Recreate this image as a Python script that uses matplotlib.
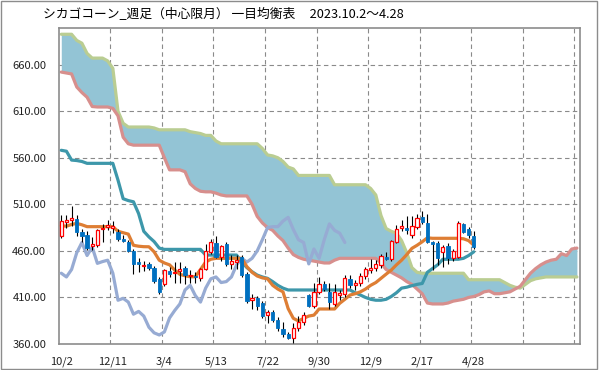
import matplotlib
matplotlib.use("Agg")
import matplotlib.pyplot as plt
from matplotlib.patches import Rectangle

plt.rcParams['font.family'] = ['Noto Sans CJK JP', 'DejaVu Sans']

title = "シカゴコーン_週足（中心限月） 一目均衡表     2023.10.2～4.28"
tick_labels = ["10/2", "12/11", "3/4", "5/13", "7/22", "9/30", "12/9", "2/17", "4/28"]

# weekly candles (81 weeks)
opens = [476, 491.5, 492.7, 494, 480, 477, 465.5, 466, 484, 486,
         485, 480, 473, 470, 460, 447.7, 444, 445.5, 442, 429.7,
         424, 438.3, 436, 438.3, 442, 433, 433.5, 431.2, 440.5, 458.4,
         468, 453.7, 467, 445.5, 448, 453.7, 434.8, 407, 409, 403.7,
         391, 394, 385.8, 376, 370.4, 366.8, 376.8, 383.3, 412.6, 401,
         416, 424, 415.5, 403, 413, 413.6, 429.7, 423, 425, 432.6,
         439, 441.9, 444.8, 453.7, 451.2, 469.8, 484.2, 484.5, 477, 485.6,
         496.3, 489.5, 469.8, 468.7, 459, 465.5, 452.6, 453.7, 488.4, 483.4,
         476.2]
highs = [498, 498, 508, 498, 484, 481, 475, 484, 489, 493,
         492, 483, 477, 472, 462, 452.6, 449, 448, 444, 432,
         441, 443, 448, 448, 444, 439, 437, 442, 467, 473,
         476, 466, 469, 456, 456, 456, 437, 414, 412, 406,
         397, 397, 389, 384, 373, 383, 390, 394, 414, 425,
         432, 428, 425, 424, 418, 434, 434, 429, 436, 443,
         451, 450, 457, 459, 472, 488, 493, 497, 497, 500,
         503, 500, 471, 471, 466, 468, 462, 492, 490, 486,
         481]
lows = [474, 484.5, 487, 476, 470, 461, 461, 464, 470, 482,
        479, 471, 470, 459, 435, 437, 438, 439, 426, 414,
        422, 432, 426, 426, 424, 425, 425, 428, 439, 457,
        452, 449, 444, 440, 440, 432, 404, 398, 396, 388,
        383, 384, 374, 367, 365, 360.8, 374, 380, 400, 399,
        414, 417, 398, 401, 407, 411, 420, 418, 422, 430,
        436, 438, 442, 450, 449, 468, 481, 478, 474, 483,
        489, 468, 439, 445, 443, 446, 449, 452, 479, 474,
        462]
closes = [492, 493, 495, 480, 476, 463, 467, 482, 485, 488,
          487, 473, 471, 460, 445.5, 445.5, 445, 442, 427.6, 416,
          439, 435.4, 437.5, 441, 434, 434.5, 432, 440.5, 459.8, 469,
          453.7, 465.5, 445.5, 449, 450, 434, 406, 409.7, 401, 390.4,
          394, 385.8, 376.8, 370.4, 366.8, 377.5, 383.3, 391, 401, 416,
          424, 419, 404.7, 415.5, 414.4, 430.5, 423.3, 425.5, 432.6, 440.5,
          441.8, 445.5, 454, 451.2, 470.5, 484, 486.3, 482, 487, 495.5,
          491.3, 469.8, 467.3, 452, 464, 452, 459.8, 489.5, 480.5, 477,
          464.4]

tenkan = [487, 486.5, 488.4, 489.5, 488, 486, 486, 486, 486, 486,
          486, 481, 479.5, 478, 466, 465, 464.5, 464.4, 459, 450,
          447, 445, 439.4, 434.8, 433.3, 432.2, 432.2, 440, 448, 451,
          452, 452, 452, 452, 452, 452, 443, 437, 433, 431,
          430, 423, 419, 416, 398, 387.6, 384.7, 387.6, 390, 391,
          397.6, 397.6, 397.6, 397.6, 403.7, 408, 412.6, 414, 416, 419,
          423, 426, 430.5, 435, 439.4, 445, 450, 456, 462.7, 466,
          469.8, 474, 473.5, 473.5, 473.5, 473.5, 473.5, 473.5, 473, 471,
          466]
kijun = [568, 567, 557.5, 557, 556, 554, 554, 554, 554, 554,
         554, 536, 516, 514, 512.7, 500, 481, 475, 470, 463,
         461.6, 461.6, 461.6, 461.6, 461.6, 461.6, 461.6, 461.6, 455.5, 455.5,
         455.5, 455.5, 455.5, 455.5, 455.5, 448, 442, 437.6, 434, 432,
         430.5, 427, 423, 420, 418, 418, 418, 418, 418, 418,
         418, 418, 418, 418, 418, 418, 418, 415, 412.6, 410,
         408, 407, 407, 408, 411, 415, 420, 421, 422.6, 424,
         425, 437, 441, 445, 451, 451, 451, 451, 452, 455,
         459]
chikou = [436, 432, 440, 458, 469, 455, 464, 446.6, 448.5, 450,
          436, 407, 409, 405, 392, 395, 390, 378, 372, 369.7,
          373, 388, 396, 403, 418, 423, 412, 405, 420, 430,
          432, 426, 427, 432, 445, 452, 448, 452, 460, 472,
          485, 486, 486, 492, 496, 483, 472, 469, 446, 462,
          452, 472, 489, 482, 479, 469]
# leading spans (101 weeks incl. future)
span_pink = [652, 651, 650, 636, 630, 625, 615, 614.5, 614.5, 614.5,
             613, 605, 582, 575, 573.5, 573.5, 573.5, 573.5, 573.5, 573.5,
             560, 547, 547, 547, 545, 532, 527, 524, 523.4, 523.4,
             522, 520, 519, 519, 519, 519, 519, 510, 497, 490,
             485, 482, 476, 471, 463, 456, 453, 451, 450, 449,
             448, 447, 447, 450, 452, 452, 452, 452, 452, 452,
             452, 452, 447, 440, 437, 434, 431, 427, 424, 419,
             414, 404, 403, 403, 403, 404, 406, 407, 408, 410,
             411, 413, 416, 417, 414, 414, 415, 416, 419, 422,
             429, 436, 441, 445, 448, 450, 451, 457, 455, 462,
             463]
span_green = [692.6, 692.6, 692.6, 686, 683, 672, 667, 667, 667, 664,
              656, 610, 597, 593, 593, 593, 593, 593, 592, 590,
              590, 590, 590, 590, 590, 588, 587, 586, 584, 584,
              578, 575, 575, 575, 575, 575, 575, 575, 575, 570,
              563, 562, 560, 556, 550, 548, 541, 541, 541, 541,
              541, 541, 541, 531, 531, 531, 531, 531, 531, 531,
              527, 520, 498, 484, 481, 479, 471, 458, 442, 437,
              436, 436, 436, 436, 436, 436, 436, 436, 436, 429,
              429, 429, 429, 429, 429, 429, 426, 423, 421, 420,
              424, 428, 430, 431, 432, 432, 432, 432, 432, 432,
              432]

fig = plt.figure(figsize=(5.99, 3.70), dpi=100)
ax = fig.add_axes([58.7 / 599, 26 / 370, (580 - 58.7) / 599, (344 - 28.3) / 370])

xs_all = list(range(len(span_green)))
ax.fill_between(xs_all, span_pink, span_green, color="#93C4D5", lw=0, zorder=1)
ax.plot(xs_all, span_green, color="#BACD92", lw=2.3, zorder=2, solid_capstyle="round")
ax.plot(xs_all, span_pink, color="#D78F8D", lw=2.3, zorder=2, solid_capstyle="round")
ax.plot(range(len(chikou)), chikou, color="#97ABD3", lw=2.3, zorder=3, solid_capstyle="round")
ax.plot(range(len(kijun)), kijun, color="#3D97AA", lw=2.3, zorder=3, solid_capstyle="round")
ax.plot(range(len(tenkan)), tenkan, color="#DE7E34", lw=2.3, zorder=3, solid_capstyle="round")

xs = list(range(len(closes)))
ax.vlines(xs, lows, highs, color="black", lw=0.8, zorder=4)
for x, o, c in zip(xs, opens, closes):
    if c >= o:
        ax.bar(x, max(c - o, 0.8), bottom=o, width=0.62, facecolor="white",
               edgecolor="#FF0000", lw=0.9, zorder=5)
    else:
        ax.bar(x, o - c, bottom=c, width=0.62, facecolor="#0070C0",
               edgecolor="#0070C0", lw=0.6, zorder=5)

ax.set_xlim(-0.5, 100.6)
ax.set_ylim(360, 699)
ax.set_yticks(range(360, 661, 50))
ax.set_yticklabels(["%.2f" % v for v in range(360, 661, 50)])
ax.set_xticks(range(0, 81, 10))
ax.set_xticklabels(tick_labels)
ax.tick_params(axis="both", which="both", length=0, labelsize=8, colors="#222222")
ax.tick_params(axis="x", pad=9)
ax.tick_params(axis="y", pad=9)
ax.grid(False)
for v in range(410, 661, 50):
    ax.axhline(v, color="#8A8A8A", lw=0.8, ls=(0, (4, 3)), zorder=0.5)
for gx in [9.5 + 10 * k for k in range(10)]:
    ax.axvline(gx, color="#8A8A8A", lw=0.8, ls=(0, (4, 3)), zorder=0.5)
for s in ax.spines.values():
    s.set_color("#8C8C8C")
    s.set_linewidth(1.2)

fig.text(43 / 599, 1 - 15 / 370, title, fontsize=9.2, va="center", ha="left")
fig.patches.append(Rectangle((0.002, 0.003), 0.995, 0.993, transform=fig.transFigure,
                             fill=False, edgecolor="#8C8C8C", lw=1))

fig.savefig("out.png", dpi=100)
